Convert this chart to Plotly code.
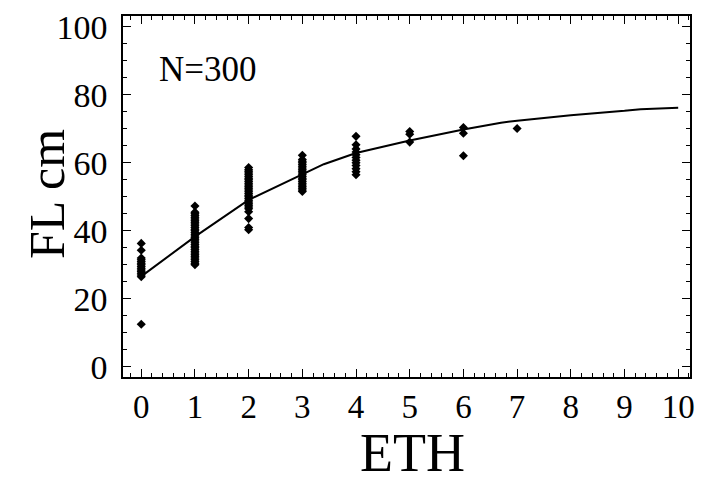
import plotly.graph_objects as go

# Observed fork lengths (cm) by age (ETH)
age0 = [12.5, 26.5, 27, 27.5, 28, 28.5, 29, 29.5, 30, 30.5, 31, 31.5, 32, 34.3, 36.3]
age1 = [30, 30.5, 31, 31.5, 32, 32.5, 33, 33.5, 34, 34.5, 35, 35.5, 36, 36.5, 37, 37.5,
        38, 38.5, 39, 39.5, 40, 40.5, 41, 41.5, 42, 42.5, 43, 43.5, 44, 44.5, 45, 45.5, 47.3]
age2 = [40.3, 41, 43.6, 45.6, 46.5, 47, 47.5, 48, 48.5, 49, 49.5, 50, 50.5, 51, 51.5, 52,
        52.5, 53, 53.5, 54, 54.5, 55, 55.5, 56, 56.5, 57, 57.5, 58, 58.6]
age3 = [51.6, 52, 52.5, 53, 53.5, 54, 54.5, 55, 55.5, 56, 56.5, 57, 57.5, 58, 58.5, 59,
        59.5, 60, 60.5, 61, 62.2]
age4 = [56.5, 57.4, 58.3, 59.2, 60, 60.8, 61.6, 62.4, 63.2, 64.1, 65.3, 67.8]
age5 = [66.1, 68.4, 69.2]
age6 = [62.1, 68.7, 70.4]
age7 = [70.1]

# Fitted growth curve
curve_x = [0, 1, 2, 3, 3.4, 4, 5, 6, 6.7, 7, 7.6, 8, 9, 9.3, 10]
curve_y = [26.6, 38.3, 49.1, 56.6, 59.6, 62.9, 66.6, 69.8, 71.8, 72.4, 73.4, 74.0, 75.3, 75.8, 76.2]

groups = [age0, age1, age2, age3, age4, age5, age6, age7]
px, py = [], []
for a, vals in enumerate(groups):
    px += [a] * len(vals)
    py += vals

fig = go.Figure()
fig.add_trace(go.Scatter(x=px, y=py, mode="markers",
                         marker=dict(symbol="diamond", size=7, color="black"),
                         showlegend=False))
fig.add_trace(go.Scatter(x=curve_x, y=curve_y, mode="lines",
                         line=dict(color="black", width=2), showlegend=False))

font_fam = "Liberation Serif"
fig.add_annotation(x=0.3, y=87.5, text="N=300", showarrow=False, xanchor="left",
                   font=dict(family=font_fam, size=35, color="black"))
fig.add_annotation(xref="paper", yref="paper", x=0.51, y=-0.21, text="ETH",
                   showarrow=False, xanchor="center", yanchor="middle",
                   font=dict(family=font_fam, size=54, color="black"))
fig.add_annotation(xref="paper", yref="paper", x=-0.134, y=0.507, text="FL cm",
                   showarrow=False, xanchor="center", yanchor="middle", textangle=-90,
                   font=dict(family=font_fam, size=50, color="black"))

fig.update_layout(
    width=701, height=474,
    margin=dict(l=115, r=19, t=8, b=105),
    plot_bgcolor="white", paper_bgcolor="white",
    font=dict(family=font_fam, color="black"),
)
fig.update_xaxes(
    range=[-0.34, 10.22], tickmode="linear", tick0=0, dtick=1,
    ticks="inside", ticklen=8, tickwidth=1, tickcolor="black",
    minor=dict(ticks="inside", ticklen=4, dtick=0.2, tickcolor="black"),
    showline=True, linecolor="black", linewidth=1.5, mirror="ticks",
    showgrid=False, zeroline=False, automargin=False,
    tickfont=dict(family=font_fam, size=33, color="black"),
    ticklabelstandoff=0,
)
fig.update_yaxes(
    range=[-3, 103.2], tickmode="linear", tick0=0, dtick=20,
    ticks="inside", ticklen=8, tickwidth=1, tickcolor="black",
    minor=dict(ticks="inside", ticklen=4, dtick=5, tickcolor="black"),
    showline=True, linecolor="black", linewidth=1.5, mirror="ticks",
    showgrid=False, zeroline=False, automargin=False,
    tickfont=dict(family=font_fam, size=34, color="black"),
    ticklabelstandoff=7,
)

fig.write_html("out.html")
